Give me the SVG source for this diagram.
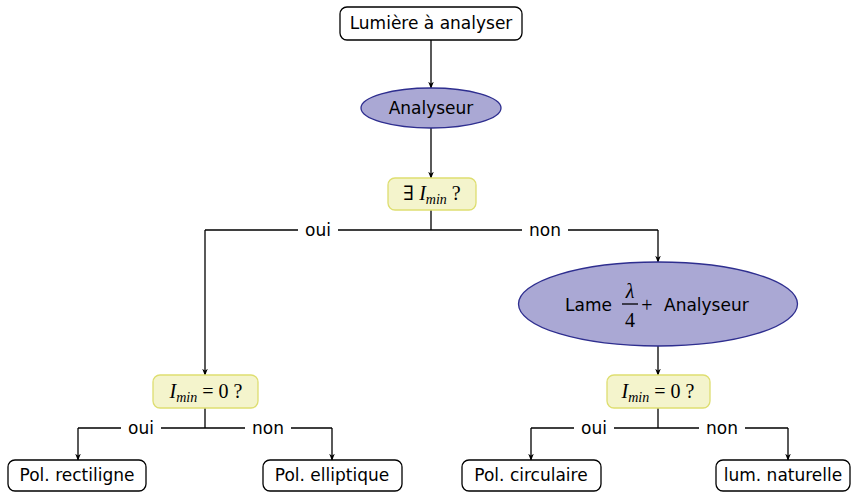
<svg xmlns="http://www.w3.org/2000/svg" width="855" height="493" viewBox="0 0 855 493">
<style>
text{font-family:"DejaVu Sans","Liberation Sans",sans-serif;font-size:17px;fill:#000}
.m{font-family:"Liberation Serif","DejaVu Serif",serif;font-style:italic;font-size:20px}
.s{font-family:"Liberation Serif","DejaVu Serif",serif;font-style:italic;font-size:14px}
.r{font-family:"Liberation Serif","DejaVu Serif",serif;font-size:20px}
.box{fill:#fff;stroke:#000;stroke-width:1.3}
.ell{fill:#aaa8d4;stroke:#2e2e8f;stroke-width:1.3}
.q{fill:#f4f4cc;stroke:#dede70;stroke-width:1.3}
.c{fill:none;stroke:#000;stroke-width:1.3}
.lbl{fill:#fff;stroke:none}
</style>
<defs>
<marker id="a" viewBox="0 0 10 10" refX="9" refY="5" markerWidth="7" markerHeight="7" orient="auto" markerUnits="userSpaceOnUse">
<path d="M0,1 L10,5 L0,9 L3,5 Z" fill="#000"/>
</marker>
</defs>
<g id="connectors">
<path class="c" d="M431,40 V88" marker-end="url(#a)"/>
<path class="c" d="M431,128 V178" marker-end="url(#a)"/>
<path class="c" d="M431,210 V230 M205,230 H658"/>
<path class="c" d="M205,230 V375" marker-end="url(#a)"/>
<path class="c" d="M658,230 V262" marker-end="url(#a)"/>
<path class="c" d="M658,346 V375" marker-end="url(#a)"/>
<path class="c" d="M205,408 V428 M78,428 H332"/>
<path class="c" d="M78,428 V460" marker-end="url(#a)"/>
<path class="c" d="M332,428 V460" marker-end="url(#a)"/>
<path class="c" d="M658,408 V428 M531,428 H788"/>
<path class="c" d="M531,428 V460" marker-end="url(#a)"/>
<path class="c" d="M788,428 V460" marker-end="url(#a)"/>
<rect class="lbl" x="298" y="220" width="40" height="20"/>
<text x="318" y="236" text-anchor="middle">oui</text>
<rect class="lbl" x="522" y="220" width="46" height="20"/>
<text x="545" y="236" text-anchor="middle">non</text>
<rect class="lbl" x="121" y="418" width="40" height="20"/>
<text x="141" y="434" text-anchor="middle">oui</text>
<rect class="lbl" x="245" y="418" width="46" height="20"/>
<text x="268" y="434" text-anchor="middle">non</text>
<rect class="lbl" x="574" y="418" width="40" height="20"/>
<text x="594" y="434" text-anchor="middle">oui</text>
<rect class="lbl" x="699" y="418" width="46" height="20"/>
<text x="722" y="434" text-anchor="middle">non</text>
</g>
<g id="n1">
<rect class="box" x="340" y="7" width="182" height="33" rx="7"/>
<text x="431" y="29" text-anchor="middle">Lumière à analyser</text>
</g>
<g id="n2">
<ellipse class="ell" cx="431" cy="108" rx="70" ry="20"/>
<text x="431" y="114" text-anchor="middle">Analyseur</text>
</g>
<g id="n3">
<rect class="q" x="388" y="178" width="88" height="32" rx="7"/>
<text x="432" y="200" text-anchor="middle"><tspan class="r" font-size="21">∃ </tspan><tspan class="m" font-size="21">I</tspan><tspan class="s" dy="4">min</tspan><tspan class="r" font-size="21" dy="-4"> ?</tspan></text>
</g>
<g id="n4">
<ellipse class="ell" cx="658" cy="304" rx="139.5" ry="42"/>
<text x="565" y="311">Lame</text>
<text class="m" x="630" y="298" text-anchor="middle">λ</text>
<line x1="622" y1="304" x2="638" y2="304" stroke="#000" stroke-width="1.3"/>
<text class="r" x="630" y="327" text-anchor="middle" fill="#333">4</text>
<text class="r" x="647" y="312" text-anchor="middle" font-size="23">+</text>
<text x="664" y="311">Analyseur</text>
</g>
<g id="n5">
<rect class="q" x="153" y="375" width="105" height="33" rx="7"/>
<text x="206" y="398" text-anchor="middle"><tspan class="m">I</tspan><tspan class="s" dy="4">min</tspan><tspan class="r" dy="-4"> = 0 ?</tspan></text>
</g>
<g id="n6">
<rect class="q" x="607" y="375" width="103" height="33" rx="7"/>
<text x="658" y="398" text-anchor="middle"><tspan class="m">I</tspan><tspan class="s" dy="4">min</tspan><tspan class="r" dy="-4"> = 0 ?</tspan></text>
</g>
<g id="n7">
<rect class="box" x="8" y="460" width="138" height="31" rx="7"/>
<text x="77" y="481" text-anchor="middle">Pol. rectiligne</text>
</g>
<g id="n8">
<rect class="box" x="263" y="460" width="139" height="31" rx="7"/>
<text x="332" y="481" text-anchor="middle">Pol. elliptique</text>
</g>
<g id="n9">
<rect class="box" x="462" y="460" width="139" height="31" rx="7"/>
<text x="531" y="481" text-anchor="middle">Pol. circulaire</text>
</g>
<g id="n10">
<rect class="box" x="716" y="460" width="134" height="31" rx="7"/>
<text x="783" y="481" text-anchor="middle">lum. naturelle</text>
</g>
</svg>
